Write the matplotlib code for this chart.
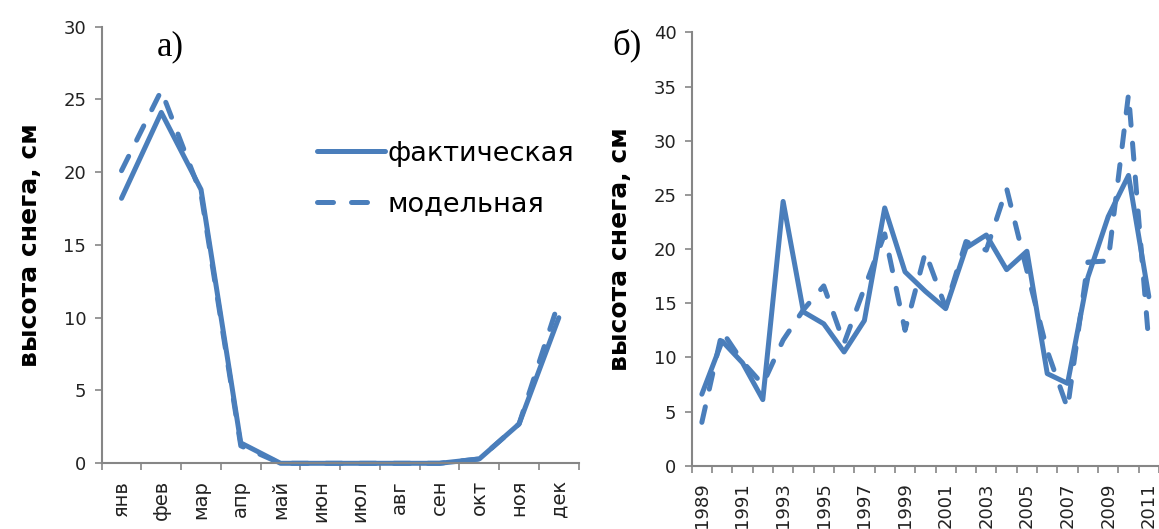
import matplotlib
matplotlib.use("Agg")
import matplotlib.pyplot as plt
from matplotlib.ticker import FixedLocator, NullFormatter

# monthly mean snow depth (panel a)
months = ['янв', 'фев', 'мар', 'апр', 'май', 'июн', 'июл', 'авг', 'сен', 'окт', 'ноя', 'дек']
fact_month = [18.2, 24.1, 18.8, 1.4, 0, 0, 0, 0, 0, 0.3, 2.7, 10.0]
model_month = [20.1, 25.6, 18.5, 1.2, 0, 0, 0, 0, 0, 0.3, 2.7, 11.1]

# yearly snow depth (panel b)
years = ['1989', '1990', '1991', '1992', '1993', '1994', '1995', '1996', '1997', '1998',
         '1999', '2000', '2001', '2002', '2003', '2004', '2005', '2006', '2007', '2008',
         '2009', '2010', '2011']
fact_year = [6.6, 11.5, 9.5, 6.1, 24.4, 14.2, 13.1, 10.5, 13.4, 23.8, 17.9, 16.1,
             14.5, 20.1, 21.3, 18.1, 19.8, 8.5, 7.6, 17.4, 23.0, 26.8, 15.6]
model_year = [4.0, 12.4, 9.6, 7.5, 11.6, 14.4, 16.6, 11.3, 16.4, 21.4, 12.5, 19.7,
              14.6, 20.7, 19.9, 25.6, 18.0, 10.6, 5.3, 18.8, 18.9, 34.3, 11.3]

blue = '#4a7ebb'
grey = '#868686'
lw = 3.6

plt.rcParams['font.family'] = ['DejaVu Sans']

fig = plt.figure(figsize=(11.59, 5.29), dpi=100)
ax1 = fig.add_axes([0.0877, 0.1242, 0.4116, 0.8257])
ax2 = fig.add_axes([0.5968, 0.1197, 0.4032, 0.8189])


def style_axis(ax, labels, ymax, every=1, xsize=12.5):
    n = len(labels)
    ax.set_xlim(-0.5, n - 0.5)
    ax.set_ylim(0, ymax)
    ax.set_yticks(range(0, ymax + 1, 5))
    ax.xaxis.set_major_locator(FixedLocator([i - 0.5 for i in range(n + 1)]))
    ax.xaxis.set_major_formatter(NullFormatter())
    pos = list(range(0, n, every))
    ax.set_xticks(pos, minor=True)
    ax.set_xticklabels([labels[i] for i in pos], minor=True, rotation=90,
                       fontsize=xsize, color='#222222')
    ax.tick_params(axis='x', which='minor', length=0, pad=12)
    ax.tick_params(axis='both', which='major', direction='out', length=5,
                   width=1.2, color=grey)
    ax.tick_params(axis='y', labelsize=13, labelcolor='#222222', pad=6)
    for s in ['top', 'right']:
        ax.spines[s].set_visible(False)
    for s in ['left', 'bottom']:
        ax.spines[s].set_color(grey)
        ax.spines[s].set_linewidth(1.5)
    ax.set_ylabel('высота снега, см', fontsize=18, fontweight='bold')


x1 = range(len(months))
ax1.plot(x1, model_month, color=blue, lw=lw, ls=(0, (3.2, 3.6)),
         dash_capstyle='round', label='модельная', clip_on=False)
ax1.plot(x1, fact_month, color=blue, lw=lw, solid_capstyle='round',
         solid_joinstyle='round', label='фактическая', clip_on=False)
style_axis(ax1, months, 30, xsize=14)
ax1.yaxis.set_label_coords(-0.125, 0.5)

x2 = range(len(years))
ax2.plot(x2, model_year, color=blue, lw=lw, ls=(0, (3.2, 3.6)),
         dash_capstyle='round', clip_on=False)
ax2.plot(x2, fact_year, color=blue, lw=lw, solid_capstyle='round',
         solid_joinstyle='round', clip_on=False)
style_axis(ax2, years, 40, every=2, xsize=13)
ax2.yaxis.set_label_coords(-0.128, 0.5)

handles, lbls = ax1.get_legend_handles_labels()
ax1.legend(handles[::-1], lbls[::-1], loc='center left',
           bbox_to_anchor=(317 / 1159, 1 - 179 / 529), bbox_transform=fig.transFigure,
           frameon=False, fontsize=19.5, handlelength=2.5, handletextpad=0.1,
           labelspacing=0.9, borderpad=0, borderaxespad=0)

fig.text(157 / 1159, 1 - 47 / 529, 'а)', family='Liberation Serif', fontsize=25,
         va='center', ha='left')
fig.text(612 / 1159, 1 - 45 / 529, 'б)', family='Liberation Serif', fontsize=25,
         va='center', ha='left')

fig.savefig('out.png', dpi=100)
